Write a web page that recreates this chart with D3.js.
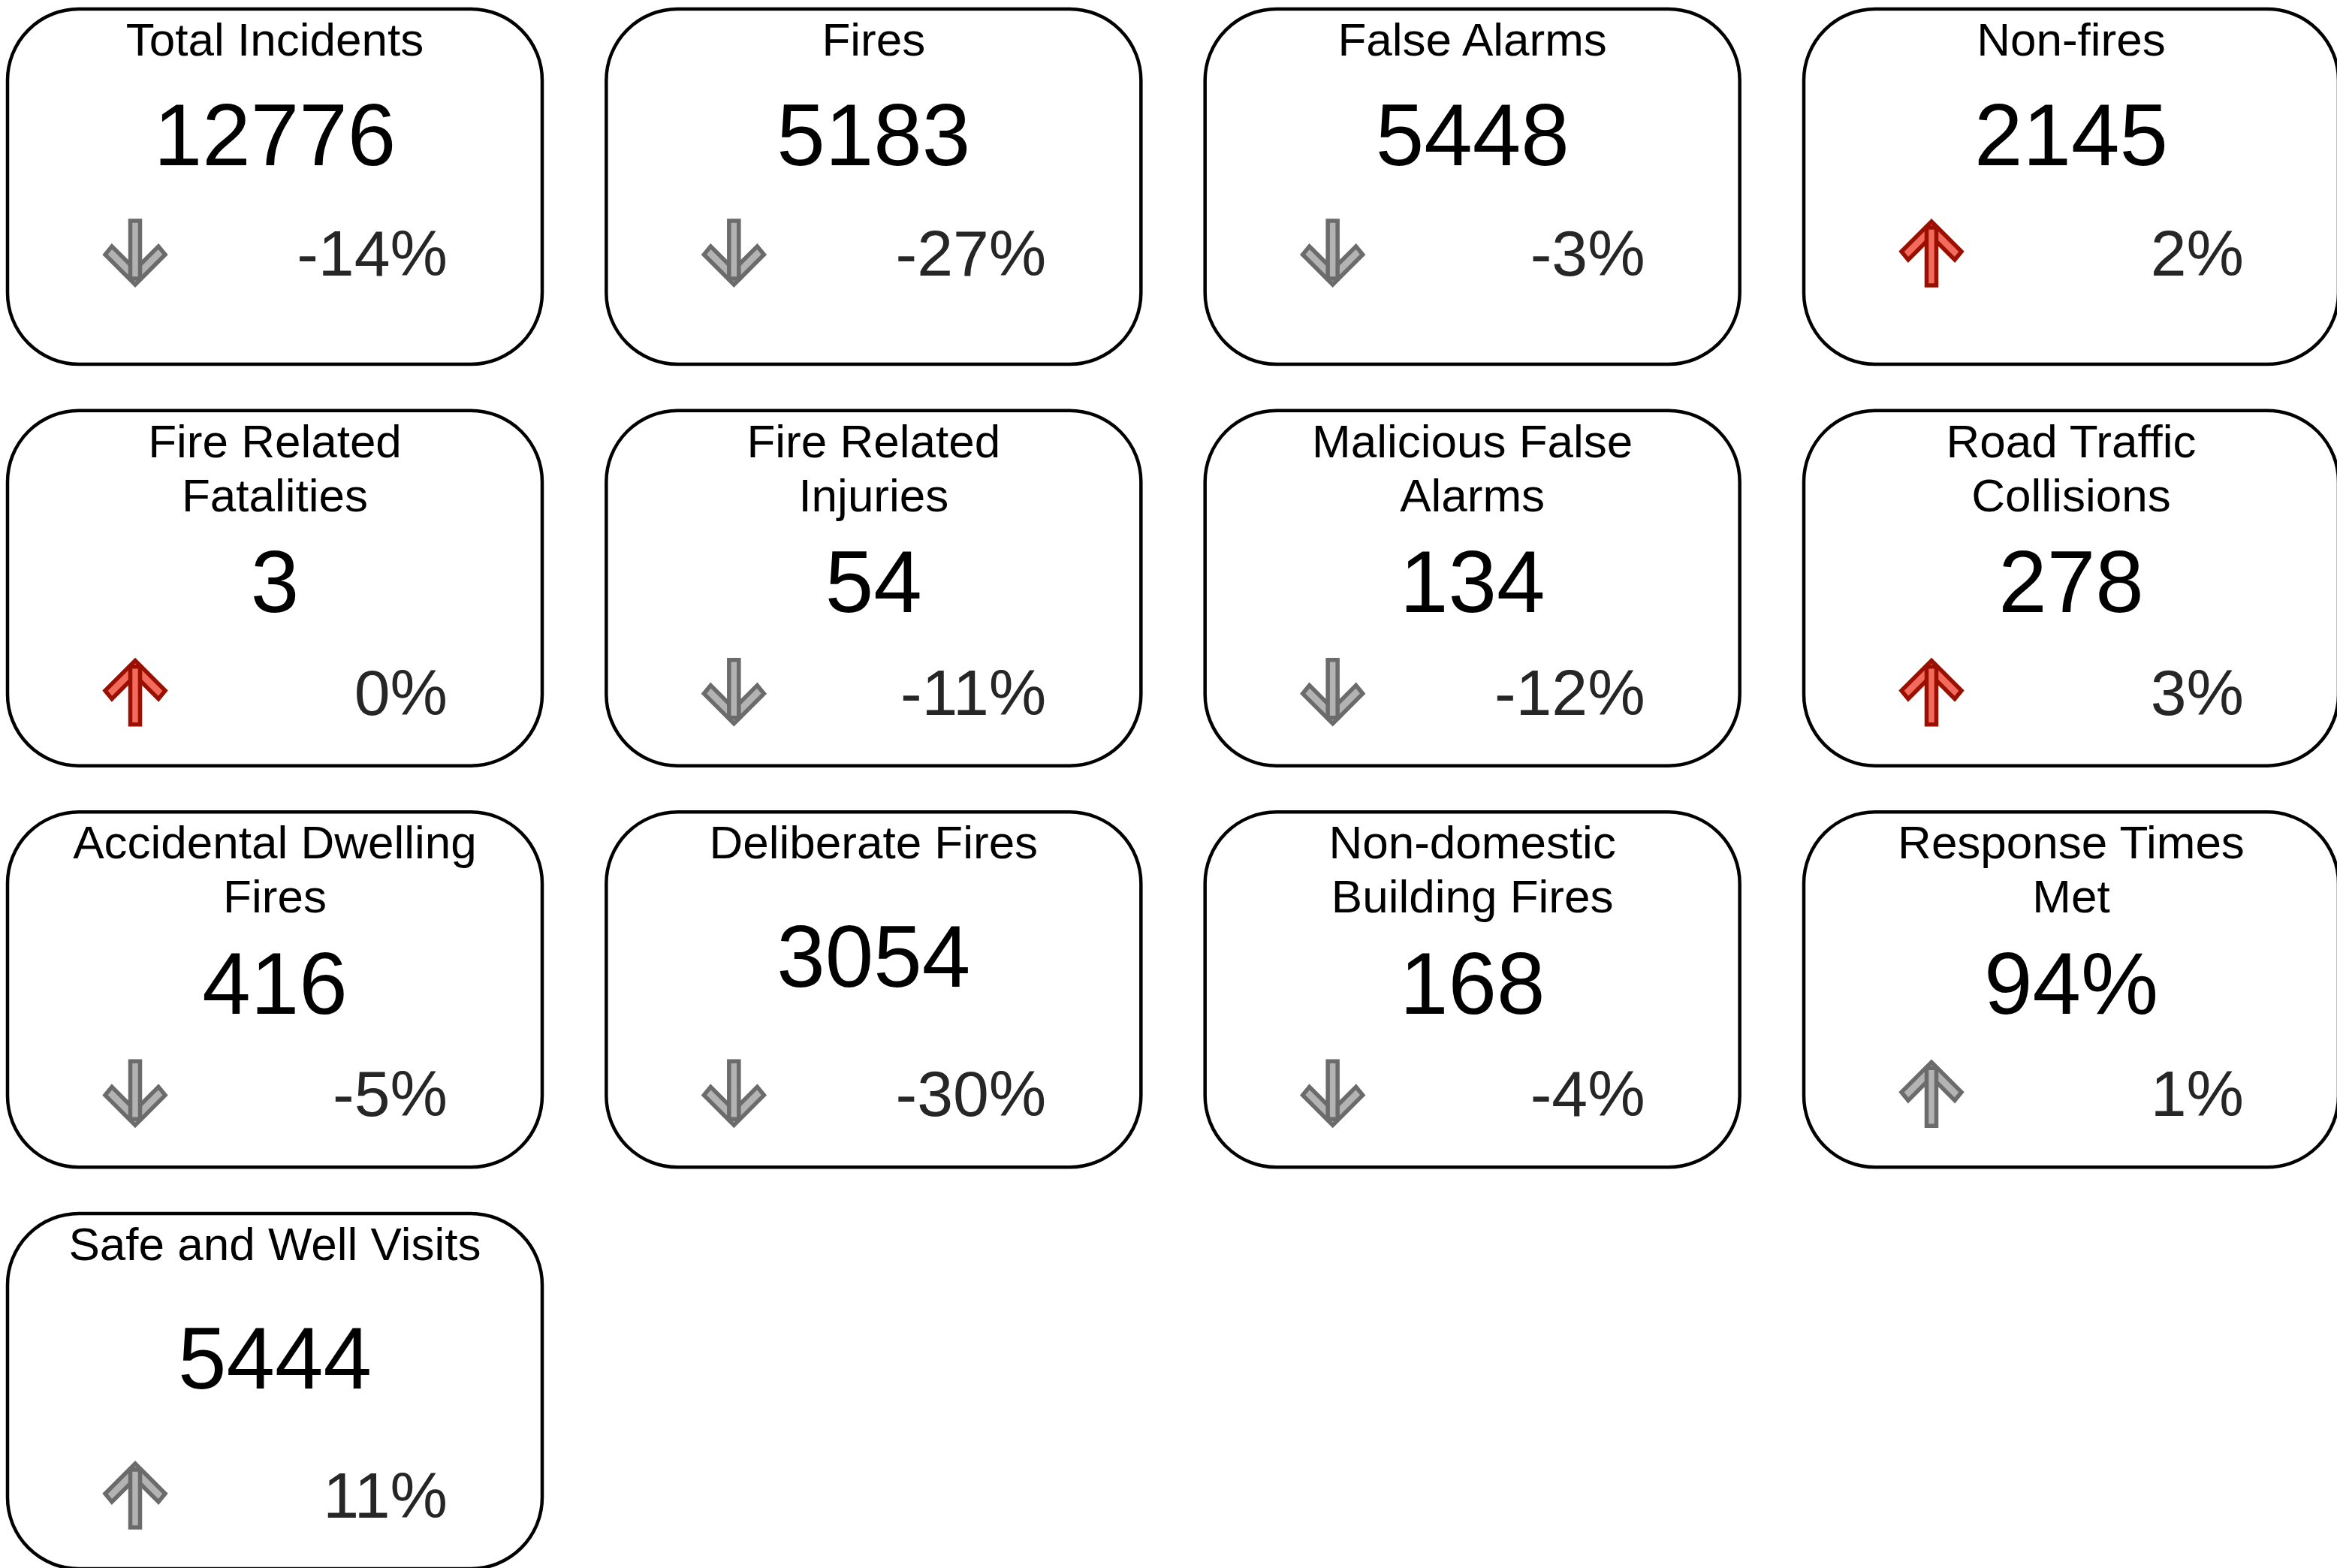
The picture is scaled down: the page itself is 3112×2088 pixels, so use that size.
<!DOCTYPE html>
<html>
<head>
<meta charset="utf-8">
<script src="https://cdn.jsdelivr.net/npm/d3@7"></script>
<style>
  html, body { margin: 0; padding: 0; background: #fff; }
  #chart { width: 3112px; height: 2088px; overflow: hidden; }
  text { font-family: "Liberation Sans", Arimo, Arial, sans-serif; }
</style>
</head>
<body>
<div id="chart"></div>
<script>
// Card titles (line breaks as shown on the dashboard)
const titles = [
    'Total Incidents', 'Fires', 'False Alarms', 'Non-fires',
    'Fire Related\nFatalities', 'Fire Related\nInjuries', 'Malicious False\nAlarms', 'Road Traffic\nCollisions',
    'Accidental Dwelling\nFires', 'Deliberate Fires', 'Non-domestic\nBuilding Fires', 'Response Times\nMet',
    'Safe and Well Visits'
];

// Headline values
const values = [12776, 5183, 5448, 2145, 3, 54, 134, 278, 416, 3054, 168, 94, 5444];
const valueUnits = ['', '', '', '', '', '', '', '', '', '', '', '%', ''];

// Change vs previous period (%)
const changes = [-14, -27, -3, 2, 0, -11, -12, 3, -5, -30, -4, 1, 11];

// Metrics where an increase is good news
const higherIsBetter = [false, false, false, false, false, false, false, false, false, false, false, true, true];

const W = 3112, H = 2088;
const nCols = 4;
const cardW = 716, cardH = 477;
const FONT = '"Liberation Sans", Arimo, Arial, sans-serif';

const svg = d3.select('#chart').append('svg')
    .attr('width', W)
    .attr('height', H);

// grid positions of the cards
const xCol = d3.scaleLinear().domain([0, 3]).range([8, 2400]);
const yRow = d3.scaleLinear().domain([0, 3]).range([10, 1614]);

const cards = titles.map((t, i) => ({
    title: t.split('\n'),
    value: values[i] + valueUnits[i],
    change: changes[i],
    up: changes[i] >= 0,
    bad: higherIsBetter[i] ? changes[i] < 0 : changes[i] >= 0,
    col: i % nCols,
    row: Math.floor(i / nCols)
}));

// arrow pieces, drawn pointing down around (0,0)
const chevron = [[0, 42], [-40, 2], [-31, -9], [0, 22], [31, -9], [40, 2]];
const shaft = [[-6.5, -43], [6.5, -43], [6.5, 34], [-6.5, 34]];
const line = d3.line().curve(d3.curveLinearClosed);

const g = svg.selectAll('g.card')
    .data(cards)
    .join('g')
    .attr('class', 'card')
    .attr('transform', d => `translate(${xCol(d.col)},${yRow(d.row)})`);

g.append('rect')
    .attr('x', 2).attr('y', 2)
    .attr('width', cardW - 4).attr('height', cardH - 4)
    .attr('rx', 95).attr('ry', 95)
    .attr('fill', '#fff')
    .attr('stroke', '#000')
    .attr('stroke-width', 4.5);

g.each(function(d) {
    const card = d3.select(this);
    const cx = cardW / 2;
    const titleY0 = 64, titleStep = 72;
    const pctY = d.row === 0 ? 357 : 407;
    const lastTitleY = titleY0 + titleStep * (d.title.length - 1);
    const numY = (lastTitleY + pctY) / 2 - 1;

    card.selectAll('text.title')
        .data(d.title)
        .join('text')
        .attr('class', 'title')
        .attr('x', cx)
        .attr('y', (t, j) => titleY0 + j * titleStep)
        .attr('text-anchor', 'middle')
        .attr('font-family', FONT)
        .attr('font-size', '62px')
        .attr('fill', '#000')
        .text(t => t);

    card.append('text')
        .attr('x', cx)
        .attr('y', numY)
        .attr('text-anchor', 'middle')
        .attr('font-family', FONT)
        .attr('font-size', '116px')
        .attr('fill', '#000')
        .text(d.value);

    card.append('text')
        .attr('x', 588)
        .attr('y', pctY)
        .attr('text-anchor', 'end')
        .attr('font-family', FONT)
        .attr('font-size', '86px')
        .attr('fill', '#262626')
        .text(`${d.change}%`);

    const fill = d.bad ? '#f26b5c' : '#b3b3b3';
    const stroke = d.bad ? '#9a0f00' : '#6b6b6b';
    const arrow = card.append('g')
        .attr('transform', `translate(172,${pctY - 30}) scale(1,${d.up ? -1 : 1})`);
    [chevron, shaft].forEach(pts => {
        arrow.append('path')
            .attr('d', line(pts))
            .attr('fill', fill)
            .attr('stroke', stroke)
            .attr('stroke-width', 5.5)
            .attr('stroke-linejoin', 'miter');
    });
});
</script>
</body>
</html>
